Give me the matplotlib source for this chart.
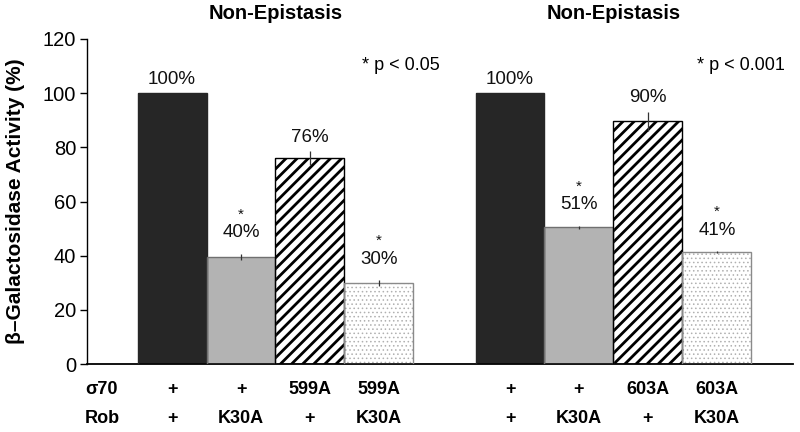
import matplotlib
matplotlib.use("Agg")
import matplotlib.pyplot as plt
import numpy as np

plt.rcParams['font.family'] = ['Liberation Sans', 'DejaVu Sans']

# Data
values = [100, 39.5, 76, 30, 100, 50.5, 89.7, 41.3]
errors = [0, 1.2, 2.5, 1.0, 0, 0.6, 3.5, 0.4]
pct_labels = ["100%", "40%", "76%", "30%", "100%", "51%", "90%", "41%"]
significant = [False, True, False, True, False, True, False, True]
sigma70 = ["+", "+", "599A", "599A", "+", "+", "603A", "603A"]
rob = ["+", "K30A", "+", "K30A", "+", "K30A", "+", "K30A"]
titles = ["Non-Epistasis", "Non-Epistasis"]
pvals = ["* p < 0.05", "* p < 0.001"]
yticks = [0, 20, 40, 60, 80, 100, 120]

positions = [0, 1, 2, 3, 4.9, 5.9, 6.9, 7.9]
styles = [
    dict(color="#262626", edgecolor="#262626", hatch=None, border="#262626", hlw=1.0),
    dict(color="#b3b3b3", edgecolor="#707070", hatch=None, border="#707070", hlw=1.0),
    dict(color="white", edgecolor="black", hatch="///", border="black", hlw=2.0),
    dict(color="white", edgecolor="#b0b0b0", hatch="....", border="#8a8a8a", hlw=0.6),
]

fig = plt.figure(figsize=(8, 4.32), dpi=100)
ax = fig.add_axes([0.109, 0.157, 0.882, 0.753])

for i, (p, v) in enumerate(zip(positions, values)):
    st = styles[i % 4]
    plt.rcParams['hatch.linewidth'] = st["hlw"]
    ax.bar(p, v, width=1.0, color=st["color"], edgecolor=st["edgecolor"],
           hatch=st["hatch"], linewidth=0, zorder=2)
    ax.bar(p, v, width=1.0, fill=False, edgecolor=st["border"],
           linewidth=1.0, zorder=3)
    if errors[i] > 0:
        ax.errorbar(p, v, yerr=errors[i], color="#333333", elinewidth=0.9,
                    capsize=0, zorder=4)

for i, (p, v) in enumerate(zip(positions, values)):
    top = v + errors[i]
    off = 4 if not significant[i] else 9
    ax.annotate(pct_labels[i], (p, top), xytext=(0, off), textcoords="offset points",
                ha="center", va="bottom", fontsize=13.5, color="#111111")
    if significant[i]:
        ax.annotate("*", (p, top), xytext=(0, off + 14), textcoords="offset points",
                    ha="center", va="bottom", fontsize=11, color="#111111")

ax.set_xlim(-1.23, 9.0)
ax.set_ylim(0, 120)
ax.set_yticks(yticks)
ax.set_yticklabels([str(t) for t in yticks], fontsize=14.5)
ax.set_xticks([])
ax.spines["top"].set_visible(False)
ax.spines["right"].set_visible(False)
ax.spines["left"].set_linewidth(1.0)
ax.spines["bottom"].set_linewidth(1.3)
ax.tick_params(axis="y", direction="out", length=5, width=1.0, pad=3)
ax.set_ylabel("β–Galactosidase Activity (%)", fontsize=15, fontweight="bold")
ax.yaxis.set_label_coords(-0.088, 0.5)

# group titles and p-values
trans = ax.get_xaxis_transform()
group_centers = [np.mean(positions[0:4]), np.mean(positions[4:8])]
for gc, t in zip(group_centers, titles):
    ax.text(gc, 1.077, t, transform=trans, ha="center",
            va="center", fontsize=14.5, fontweight="bold")
ax.text(3.32, 110, pvals[0], ha="center", va="center", fontsize=13)
ax.text(8.25, 110, pvals[1], ha="center", va="center", fontsize=13)

# condition rows beneath
ax.text(-1.26, -0.077, "σ70", transform=trans, ha="left", va="center", fontsize=13, fontweight="bold")
ax.text(-1.26, -0.166, "Rob", transform=trans, ha="left", va="center", fontsize=13, fontweight="bold")
for p, s, r in zip(positions, sigma70, rob):
    ax.text(p, -0.077, s, transform=trans, ha="center", va="center", fontsize=13, fontweight="bold")
    ax.text(p, -0.166, r, transform=trans, ha="center", va="center", fontsize=13, fontweight="bold")

fig.savefig("out.png", dpi=100)
